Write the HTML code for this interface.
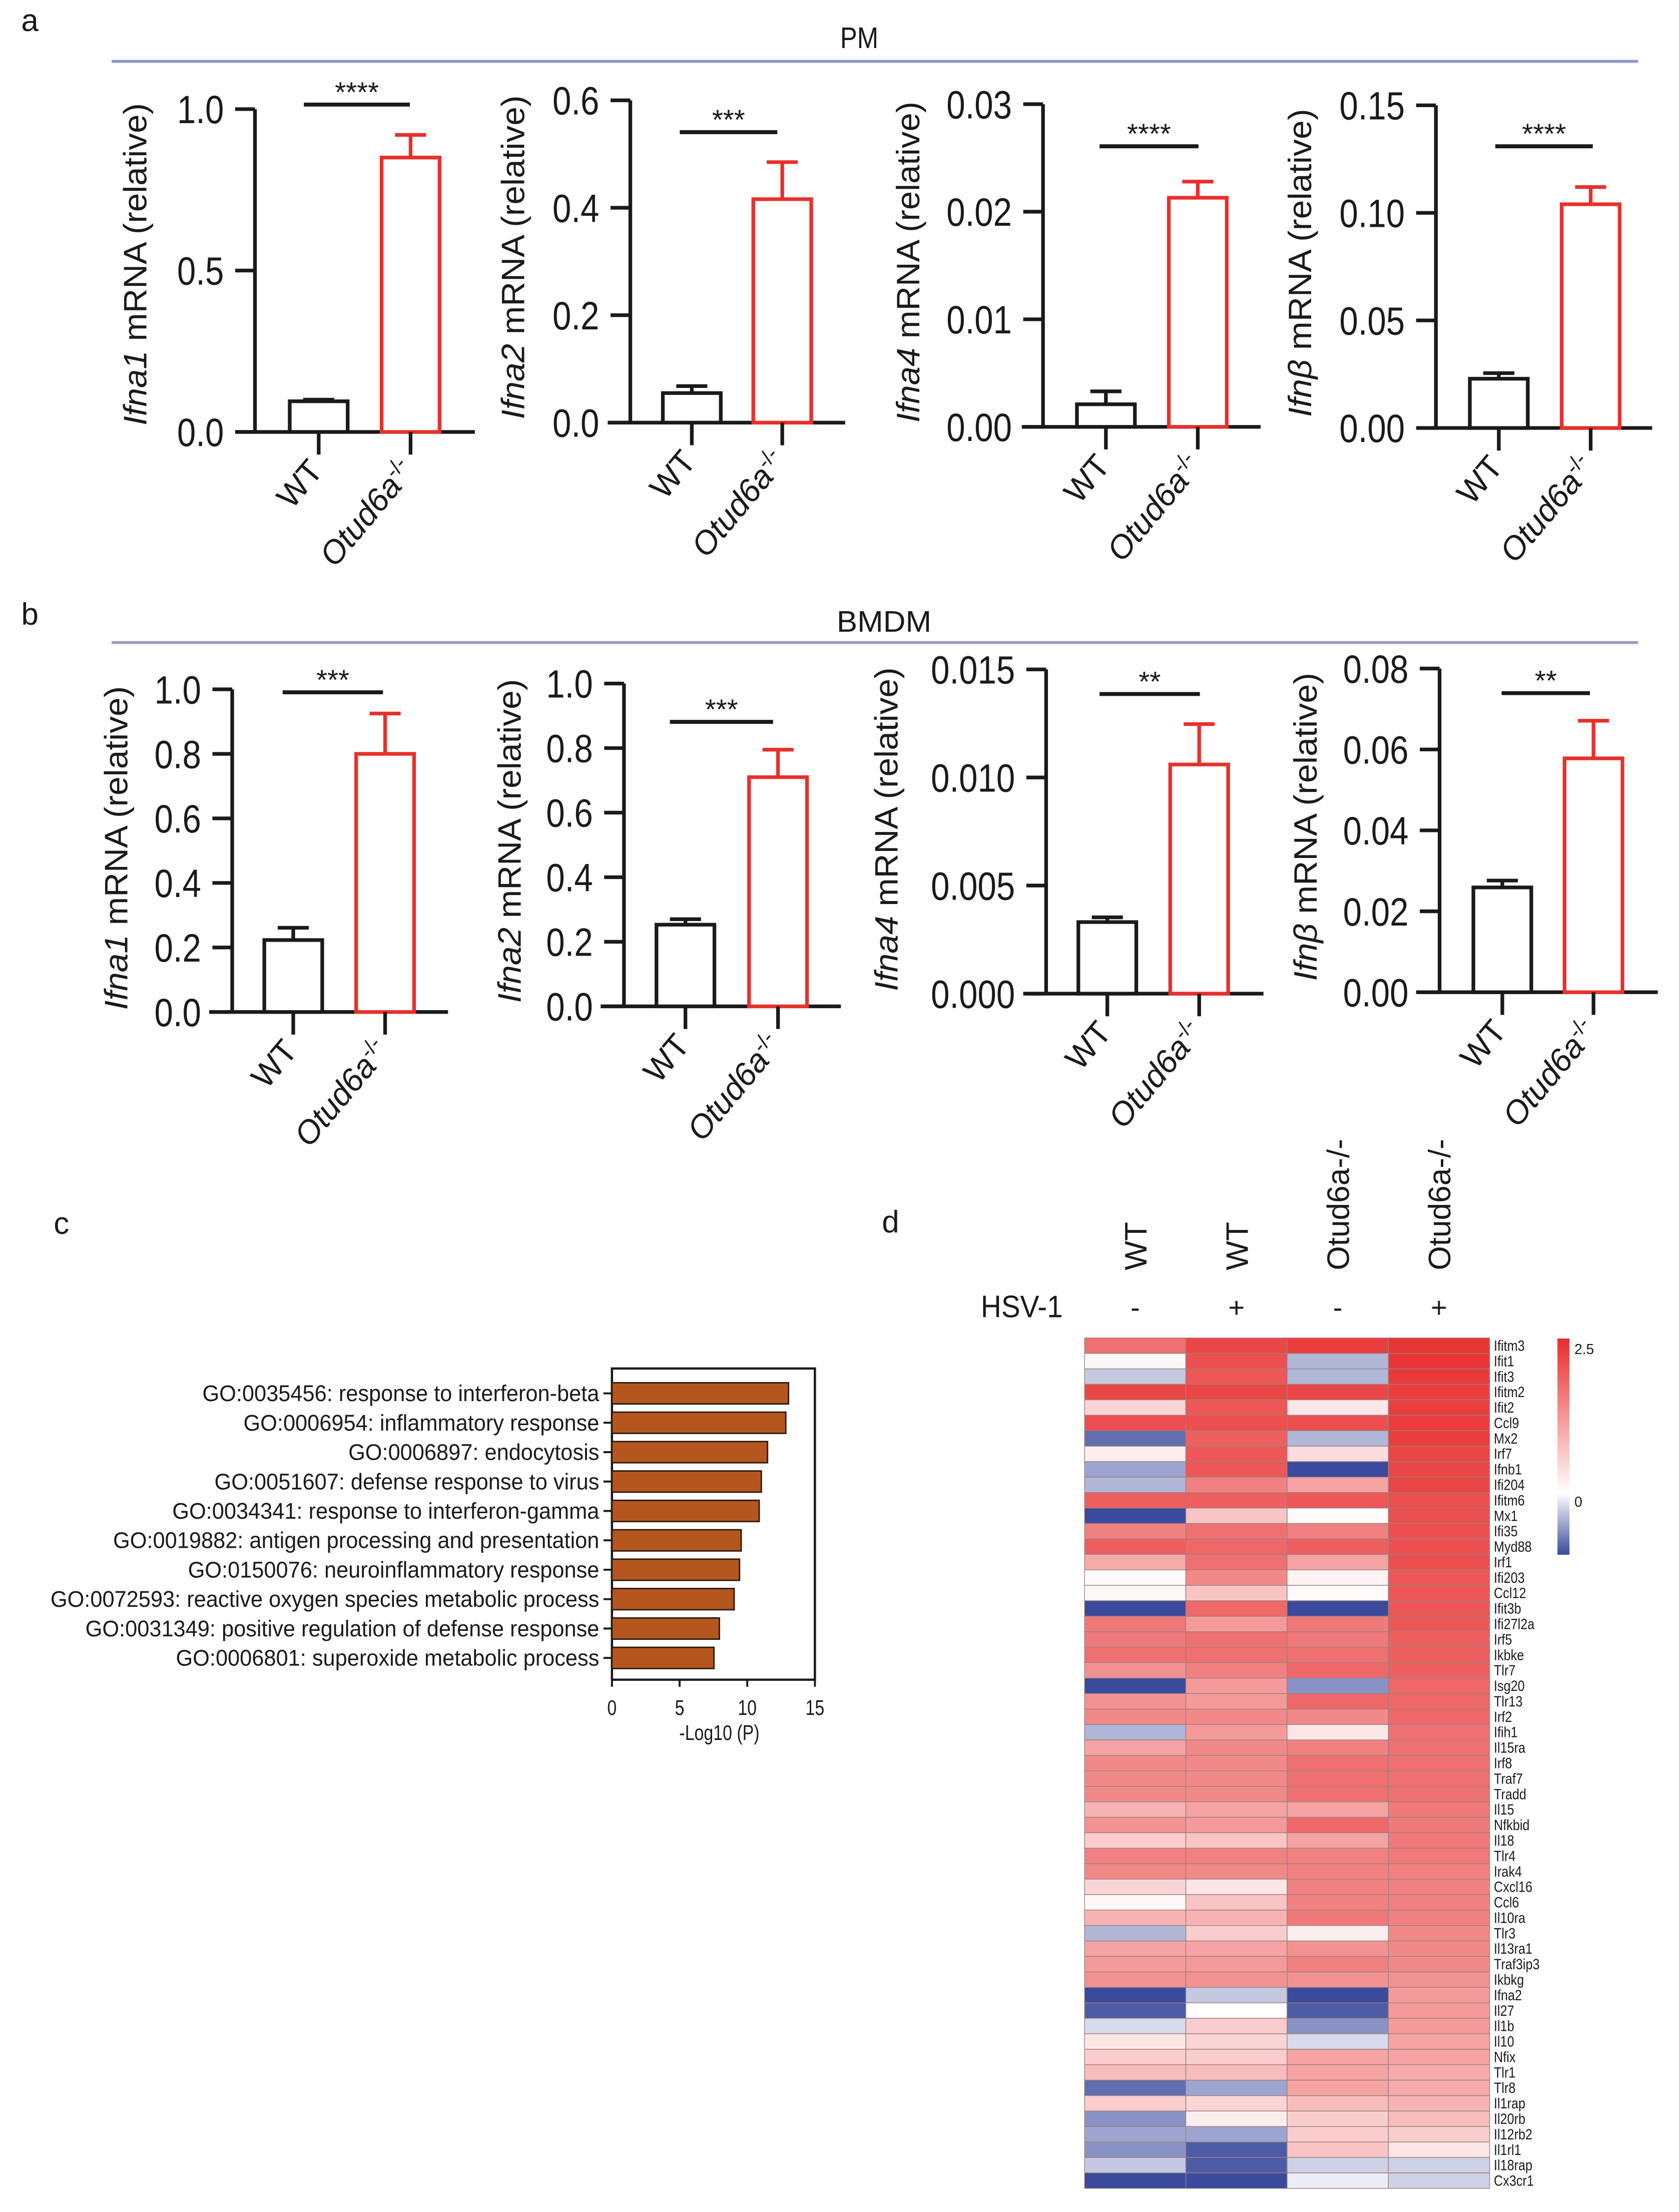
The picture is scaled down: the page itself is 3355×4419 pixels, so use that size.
<!DOCTYPE html>
<html><head><meta charset="utf-8"><title>Figure</title>
<style>html,body{margin:0;padding:0;background:#fff;overflow:hidden}svg{display:block}text{font-family:"Liberation Sans",Arial,sans-serif;fill:#1a1a1a}</style>
</head><body>
<svg id="fig" xmlns="http://www.w3.org/2000/svg" width="3355" height="4419" viewBox="0 0 1188 1565" preserveAspectRatio="none">
<rect x="0" y="0" width="1188" height="1565" fill="#fff"/>
<text x="15" y="22" font-size="22">a</text>
<text x="608" y="34" font-size="21" text-anchor="middle" textLength="27" lengthAdjust="spacingAndGlyphs">PM</text>
<line x1="79" y1="43.4" x2="1159" y2="43.4" stroke="#8e90d8" stroke-width="2"/>
<text x="15" y="442" font-size="22">b</text>
<text x="592" y="447" font-size="21" textLength="67" lengthAdjust="spacingAndGlyphs">BMDM</text>
<line x1="79" y1="454.6" x2="1159" y2="454.6" stroke="#9a9db8" stroke-width="2"/>
<text x="38" y="873" font-size="22">c</text>
<text x="624" y="872" font-size="22">d</text>
<text x="694" y="932" font-size="22" textLength="58" lengthAdjust="spacingAndGlyphs">HSV-1</text>
</svg>
<script>
// ---------- bar chart data ----------
const barCategories = ["WT", "Otud6a"];
const pmIfna1Means = [0.095, 0.85];
const pmIfna1ErrTop = [0.10, 0.92];
const pmIfna1Ticks = [0, 0.5, 1.0];
const pmIfna1TickLabels = ["0.0", "0.5", "1.0"];
const pmIfna2Means = [0.055, 0.416];
const pmIfna2ErrTop = [0.068, 0.485];
const pmIfna2Ticks = [0, 0.2, 0.4, 0.6];
const pmIfna2TickLabels = ["0.0", "0.2", "0.4", "0.6"];
const pmIfna4Means = [0.0021, 0.0213];
const pmIfna4ErrTop = [0.0033, 0.0228];
const pmIfna4Ticks = [0, 0.01, 0.02, 0.03];
const pmIfna4TickLabels = ["0.00", "0.01", "0.02", "0.03"];
const pmIfnbMeans = [0.0229, 0.104];
const pmIfnbErrTop = [0.0255, 0.112];
const pmIfnbTicks = [0, 0.05, 0.10, 0.15];
const pmIfnbTickLabels = ["0.00", "0.05", "0.10", "0.15"];
const bmIfna1Means = [0.223, 0.80];
const bmIfna1ErrTop = [0.261, 0.925];
const bmIfna1Ticks = [0, 0.2, 0.4, 0.6, 0.8, 1.0];
const bmIfna1TickLabels = ["0.0", "0.2", "0.4", "0.6", "0.8", "1.0"];
const bmIfna2Means = [0.253, 0.71];
const bmIfna2ErrTop = [0.27, 0.795];
const bmIfna2Ticks = [0, 0.2, 0.4, 0.6, 0.8, 1.0];
const bmIfna2TickLabels = ["0.0", "0.2", "0.4", "0.6", "0.8", "1.0"];
const bmIfna4Means = [0.00331, 0.0106];
const bmIfna4ErrTop = [0.00353, 0.01247];
const bmIfna4Ticks = [0, 0.005, 0.010, 0.015];
const bmIfna4TickLabels = ["0.000", "0.005", "0.010", "0.015"];
const bmIfnbMeans = [0.0259, 0.0578];
const bmIfnbErrTop = [0.0276, 0.0671];
const bmIfnbTicks = [0, 0.02, 0.04, 0.06, 0.08];
const bmIfnbTickLabels = ["0.00", "0.02", "0.04", "0.06", "0.08"];
const significance = ["****", "***", "****", "****", "***", "***", "**", "**"];

// ---------- GO data ----------
const goTerms = ["GO:0035456: response to interferon-beta","GO:0006954: inflammatory response","GO:0006897: endocytosis","GO:0051607: defense response to virus","GO:0034341: response to interferon-gamma","GO:0019882: antigen processing and presentation","GO:0150076: neuroinflammatory response","GO:0072593: reactive oxygen species metabolic process","GO:0031349: positive regulation of defense response","GO:0006801: superoxide metabolic process"];
const goValues = [13.05, 12.85, 11.5, 11.04, 10.88, 9.55, 9.43, 9.03, 7.94, 7.54];
const goTicks = [0, 5, 10, 15];

// ---------- heatmap data ----------
const genes = ["Ifitm3","Ifit1","Ifit3","Ifitm2","Ifit2","Ccl9","Mx2","Irf7","Ifnb1","Ifi204","Ifitm6","Mx1","Ifi35","Myd88","Irf1","Ifi203","Ccl12","Ifit3b","Ifi27l2a","Irf5","Ikbke","Tlr7","Isg20","Tlr13","Irf2","Ifih1","Il15ra","Irf8","Traf7","Tradd","Il15","Nfkbid","Il18","Tlr4","Irak4","Cxcl16","Ccl6","Il10ra","Tlr3","Il13ra1","Traf3ip3","Ikbkg","Ifna2","Il27","Il1b","Il10","Nfix","Tlr1","Tlr8","Il1rap","Il20rb","Il12rb2","Il1rl1","Il18rap","Cx3cr1"];
const sampleLabels = ["WT", "WT", "Otud6a-/-", "Otud6a-/-"];
const hsvLabels = ["-", "+", "-", "+"];
const wtMinus = [1.7,0.1,-0.3,2.2,0.5,2.1,-0.8,0.2,-0.5,-0.4,1.9,-1.0,1.5,1.9,1.0,0.05,0.1,-1.0,1.6,1.6,1.7,1.3,-1.0,1.3,1.4,-0.4,1.1,1.4,1.4,1.4,0.9,1.3,0.6,1.5,1.4,0.5,0.1,0.9,-0.4,1.1,1.2,1.3,-1.0,-0.9,-0.2,0.3,0.6,0.8,-0.8,0.6,-0.6,-0.5,-0.6,-0.3,-1.0];
const wtPlus = [2.2,2.1,2.0,2.2,2.0,2.1,1.9,2.0,2.0,1.5,1.9,0.7,1.7,1.8,1.7,1.4,0.7,1.8,1.2,1.7,1.7,1.5,1.2,1.2,1.4,1.2,1.4,1.4,1.4,1.4,1.1,1.2,0.7,1.5,1.4,0.3,0.7,0.9,0.6,1.1,1.2,1.3,-0.3,0.0,0.6,0.5,0.6,0.8,-0.5,0.5,0.2,-0.5,-0.9,-0.9,-1.0];
const koMinus = [2.3,-0.4,-0.4,2.2,0.3,2.1,-0.4,0.4,-1.0,1.1,2.0,0.05,1.5,1.9,1.1,0.15,0.05,-1.0,1.6,1.6,1.7,1.8,-0.6,1.8,1.4,0.3,1.5,1.7,1.7,1.7,1.1,1.8,1.1,1.5,1.5,1.5,1.5,1.6,0.2,1.3,1.5,1.3,-1.0,-0.9,-0.6,-0.2,1.1,1.1,1.1,0.8,0.6,0.6,0.7,-0.25,-0.1];
const koPlus = [2.4,2.4,2.35,2.3,2.3,2.3,2.3,2.2,2.2,2.2,2.1,2.1,2.1,2.1,2.1,2.0,2.0,2.0,2.0,1.9,1.9,1.9,1.8,1.8,1.8,1.7,1.7,1.7,1.7,1.7,1.6,1.6,1.6,1.6,1.5,1.5,1.5,1.5,1.4,1.4,1.4,1.3,1.2,1.2,1.2,1.1,1.1,1.0,1.0,0.9,0.8,0.6,0.3,-0.25,-0.25];
const colorScaleMin = -1;
const colorScaleMax = 2.5;

const NS = "http://www.w3.org/2000/svg";
const svg = document.getElementById("fig");
function mk(tag, attrs, parent) {
  const e = document.createElementNS(NS, tag);
  for (const k in attrs) e.setAttribute(k, attrs[k]);
  (parent || svg).appendChild(e);
  return e;
}

const charts = [
  {id:"pm-ifna1", gene:"Ifna1", means:pmIfna1Means, err:pmIfna1ErrTop, ticks:pmIfna1Ticks, labels:pmIfna1TickLabels, ax:180.4, y0:305.6, yT:77.2, bars:[205,270], xa:[167,336], by:74, bx:[215,290], tx:103.6, tcy:187, tl:228},
  {id:"pm-ifna2", gene:"Ifna2", means:pmIfna2Means, err:pmIfna2ErrTop, ticks:pmIfna2Ticks, labels:pmIfna2TickLabels, ax:446, y0:299, yT:71, bars:[469,533], xa:[430,598], by:93.5, bx:[481,550], tx:371, tcy:182, tl:229},
  {id:"pm-ifna4", gene:"Ifna4", means:pmIfna4Means, err:pmIfna4ErrTop, ticks:pmIfna4Ticks, labels:pmIfna4TickLabels, ax:738, y0:302, yT:73.7, bars:[762,827], xa:[723,892], by:103.5, bx:[778,848], tx:650.5, tcy:185.4, tl:227},
  {id:"pm-ifnb", gene:"Ifn\u03b2", means:pmIfnbMeans, err:pmIfnbErrTop, ticks:pmIfnbTicks, labels:pmIfnbTickLabels, ax:1016, y0:302.8, yT:74.5, bars:[1040,1105], xa:[1003,1169], by:103.5, bx:[1058,1127], tx:927.7, tcy:186, tl:218},
  {id:"bmdm-ifna1", gene:"Ifna1", means:bmIfna1Means, err:bmIfna1ErrTop, ticks:bmIfna1Ticks, labels:bmIfna1TickLabels, ax:164.3, y0:716, yT:487.7, bars:[187,252], xa:[148,317], by:489.8, bx:[200,271], tx:90.2, tcy:600, tl:229},
  {id:"bmdm-ifna2", gene:"Ifna2", means:bmIfna2Means, err:bmIfna2ErrTop, ticks:bmIfna2Ticks, labels:bmIfna2TickLabels, ax:441.5, y0:712, yT:483.6, bars:[464.5,530], xa:[425,595], by:510.7, bx:[474,547], tx:368.5, tcy:595, tl:229},
  {id:"bmdm-ifna4", gene:"Ifna4", means:bmIfna4Means, err:bmIfna4ErrTop, ticks:bmIfna4Ticks, labels:bmIfna4TickLabels, ax:740.2, y0:703, yT:473.6, bars:[763,828], xa:[724,894], by:491, bx:[778,849], tx:635, tcy:586.7, tl:229},
  {id:"bmdm-ifnb", gene:"Ifn\u03b2", means:bmIfnbMeans, err:bmIfnbErrTop, ticks:bmIfnbTicks, labels:bmIfnbTickLabels, ax:1018.6, y0:702, yT:473, bars:[1042.5,1107], xa:[1002,1173], by:490.4, bx:[1062.5,1125], tx:931.6, tcy:585, tl:218}
];
const barW = 41;
const barColors = ["#1a1a1a", "#e8302c"];

charts.forEach((c, ci) => {
  const g = mk("g", {});
  
  
  const yMax = c.ticks[c.ticks.length - 1];
  const ys = v => c.y0 - (v / yMax) * (c.y0 - c.yT);
  const ya = mk("line", {x1:c.ax, y1:c.yT, x2:c.ax, y2:c.y0, stroke:"#1a1a1a", "stroke-width":2.6}, g);
  
  
  c.ticks.forEach((t, i) => {
    const tk = mk("line", {x1:c.ax - 14, y1:ys(t), x2:c.ax, y2:ys(t), stroke:"#1a1a1a", "stroke-width":2.6}, g);
    
    
    const tl = mk("text", {transform:`translate(${c.ax - 22},${ys(t) + 10}) scale(0.85,1)`, "font-size":28, "text-anchor":"end"}, g);
    
    
    tl.textContent = c.labels[i];
  });
  const xl = mk("line", {x1:c.xa[0], y1:c.y0, x2:c.xa[1], y2:c.y0, stroke:"#1a1a1a", "stroke-width":2.6}, g);
  
  
  c.means.forEach((m, i) => {
    const x = c.bars[i], cx = x + barW / 2, col = barColors[i];
    const r = mk("rect", {x:x, y:ys(m), width:barW, height:c.y0 - ys(m), fill:"#fff", stroke:col, "stroke-width":2.6}, g);
    
    
    const e1 = mk("line", {x1:cx, y1:ys(m), x2:cx, y2:ys(c.err[i]), stroke:col, "stroke-width":2.6}, g);
    
    
    const e2 = mk("line", {x1:cx - 11, y1:ys(c.err[i]), x2:cx + 11, y2:ys(c.err[i]), stroke:col, "stroke-width":2.6}, g);
    
    
    const xt = mk("line", {x1:cx, y1:c.y0, x2:cx, y2:c.y0 + 16, stroke:"#1a1a1a", "stroke-width":2.6}, g);
    
    
    const lab = mk("text", {transform:`translate(${cx + 4},${c.y0 + 28}) rotate(-50)`, "font-size":23, "text-anchor":"end"}, g);
    
    
    if (i === 0) { lab.textContent = barCategories[0]; }
    else {
      const t1 = mk("tspan", {"font-style":"italic"}, lab); t1.textContent = barCategories[1];
      const t2 = mk("tspan", {"baseline-shift":"super", "font-size":15}, lab); t2.textContent = "-/-";
    }
  });
  const br = mk("line", {x1:c.bx[0], y1:c.by, x2:c.bx[1], y2:c.by, stroke:"#1a1a1a", "stroke-width":2.8}, g);
  
  
  const st = mk("text", {x:(c.bx[0] + c.bx[1]) / 2, y:c.by - 2, "font-size":20, "text-anchor":"middle"}, g);
  
  
  st.textContent = significance[ci];
  const yt = mk("text", {transform:`translate(${c.tx},${c.tcy}) rotate(-90)`, "font-size":23, "text-anchor":"middle", textLength:c.tl, lengthAdjust:"spacingAndGlyphs"}, g);
  
  
  const a = mk("tspan", {"font-style":"italic"}, yt); a.textContent = c.gene;
  const b = mk("tspan", {}, yt); b.textContent = " mRNA (relative)";
});

// ---------- GO bar chart ----------
const goL = 433, goR = 576.6, goTop = 968.2, goBot = 1188.4, goRow0 = 985.8, goStep = 20.8, goBarH = 15;
const gxs = v => goL + (v / goTicks[goTicks.length - 1]) * (goR - goL);
const goG = mk("g", {});


const frame = mk("path", {d:`M${goL},${goTop} L${goR},${goTop} L${goR},${goBot} L${goL},${goBot} Z`, fill:"none", stroke:"#1a1a1a", "stroke-width":1.6}, goG);


goTerms.forEach((term, i) => {
  const cy = goRow0 + i * goStep;
  const r = mk("rect", {x:goL, y:cy - goBarH / 2, width:gxs(goValues[i]) - goL, height:goBarH, fill:"#b5561f", stroke:"#2a1a10", "stroke-width":1}, goG);
  
  
  const tk = mk("line", {x1:goL - 6, y1:cy, x2:goL, y2:cy, stroke:"#1a1a1a", "stroke-width":1.4}, goG);
  
  
  const t = mk("text", {transform:`translate(424,${cy + 5.5}) scale(0.96,1)`, "font-size":16, "text-anchor":"end", fill:"#2a2a2a"}, goG);
  
  
  t.textContent = term;
});
goTicks.forEach(v => {
  const tk = mk("line", {x1:gxs(v), y1:goBot, x2:gxs(v), y2:goBot + 5, stroke:"#1a1a1a", "stroke-width":1.4}, goG);
  
  
  const t = mk("text", {transform:`translate(${gxs(v)},${goBot + 25}) scale(0.8,1)`, "font-size":15, "text-anchor":"middle"}, goG);
  
  
  t.textContent = String(v);
});
const gxt = mk("text", {transform:`translate(509,1231) scale(0.8,1)`, "font-size":15, "text-anchor":"middle"}, goG);


gxt.textContent = "-Log10 (P)";

// ---------- heatmap ----------
function heatColor(v) {
  if (v >= 0) {
    const t = Math.min(v / colorScaleMax, 1);
    return `rgb(${Math.round(255 - 23 * t)},${Math.round(255 - 210 * t)},${Math.round(255 - 210 * t)})`;
  }
  const t = Math.min(-v / -colorScaleMin, 1);
  return `rgb(${Math.round(255 - 197 * t)},${Math.round(255 - 181 * t)},${Math.round(255 - 99 * t)})`;
}
const hmL = 767.4, hmTop = 946.6, hmColW = 71.65, hmRowH = 10.94;
const hmSeries = [wtMinus, wtPlus, koMinus, koPlus];
const hmG = mk("g", {});


hmSeries.forEach((series, ci) => {
  series.forEach((v, ri) => {
    const r = mk("rect", {x:hmL + ci * hmColW, y:hmTop + ri * hmRowH, width:hmColW, height:hmRowH, fill:heatColor(v), stroke:"#9b8080", "stroke-width":0.5}, hmG);
    
    
  });
  const cx = hmL + (ci + 0.5) * hmColW;
  const sl = mk("text", {transform:`translate(${cx + 8},898.7) rotate(-90)`, "font-size":22}, hmG);
  
  
  sl.textContent = sampleLabels[ci];
  const hl = mk("text", {x:cx, y:932, "font-size":20, "text-anchor":"middle"}, hmG);
  
  
  hl.textContent = hsvLabels[ci];
});
genes.forEach((gname, ri) => {
  const t = mk("text", {transform:`translate(1057,${hmTop + (ri + 0.5) * hmRowH + 3.6}) scale(0.85,1)`, "font-size":10.5}, hmG);
  
  
  t.textContent = gname;
});
const defs = mk("defs", {});
const grad = mk("linearGradient", {id:"cbar", x1:0, y1:0, x2:0, y2:1}, defs);
const stops = [2.5, 2.0, 1.5, 1.0, 0.5, 0, -0.5, -1];
stops.forEach(v => {
  mk("stop", {offset:(colorScaleMax - v) / (colorScaleMax - colorScaleMin), "stop-color":heatColor(v)}, grad);
});
const cb = mk("rect", {x:1102, y:947, width:8.5, height:153, fill:"url(#cbar)"}, hmG);


const cbMax = mk("text", {x:1114, y:958, "font-size":10}, hmG);


cbMax.textContent = "2.5";
const cbZero = mk("text", {x:1114, y:1066, "font-size":10}, hmG);


cbZero.textContent = "0";
</script>
</body></html>
